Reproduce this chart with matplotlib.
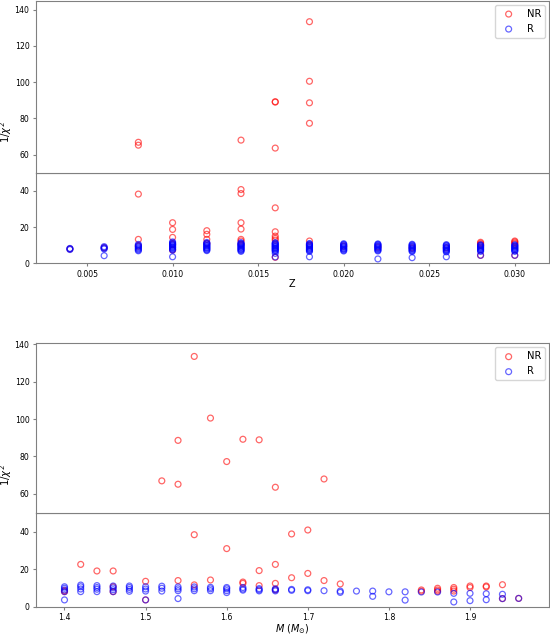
import numpy as np
import matplotlib
matplotlib.use("Agg")
import matplotlib.pyplot as plt

# grid of metallicities and masses
Z_GRID = [0.004, 0.006, 0.008, 0.010, 0.012, 0.014, 0.016,
          0.018, 0.020, 0.022, 0.024, 0.026, 0.028, 0.030]
M_GRID = [1.40, 1.42, 1.44, 1.46, 1.48, 1.50, 1.52, 1.54, 1.56, 1.58,
          1.60, 1.62, 1.64, 1.66, 1.68, 1.70, 1.72, 1.74, 1.76, 1.78,
          1.80, 1.82, 1.84, 1.86, 1.88, 1.90, 1.92, 1.94, 1.96]

# 1/chi^2 values read per Z (non-rotating / rotating)
NR_BY_Z = [
    [7.9],
    [8.6],
    [65.2, 66.8, 38.2, 13.2, 9.5],
    [22.4, 18.7, 14.3, 10.5, 7.3],
    [18.0, 16.0, 13.2, 11.0],
    [68.0, 40.7, 38.5, 22.4, 18.9, 13.2, 12.3, 10.5],
    [89.0, 89.2, 63.6, 30.6, 17.4, 15.0, 13.8, 12.8, 3.3],
    [133.4, 100.5, 88.6, 77.3, 12.3, 10.0],
    [9.5],
    [9.0],
    [8.5],
    [8.5],
    [11.6, 11.0, 10.4, 9.8, 4.4],
    [12.3, 11.8, 11.2, 10.6, 4.4],
]
R_BY_Z = [
    [7.6, 8.0, 8.2],
    [4.2, 7.9, 8.3, 8.7, 9.2],
    [6.9, 7.4, 7.9, 8.4, 8.9, 9.4, 9.9, 10.4],
    [3.6, 7.3, 7.7, 8.1, 8.6, 8.9, 9.3, 9.8, 10.1, 10.5, 10.9, 11.3, 11.8],
    [7.0, 7.4, 7.8, 8.3, 8.6, 9.0, 9.5, 9.8, 10.2, 10.7, 11.0, 11.5],
    [6.6, 7.0, 7.5, 7.8, 8.2, 8.7, 9.0, 9.4, 9.9, 10.2, 10.6, 11.0, 11.4],
    [3.5, 5.5, 6.6, 7.0, 7.4, 7.9, 8.2, 8.6, 9.1, 9.4, 9.8, 10.3, 10.6, 11.0, 11.4],
    [3.6, 6.6, 7.0, 7.5, 7.8, 8.2, 8.7, 9.0, 9.4, 9.9, 10.2, 10.6, 10.9],
    [6.8, 7.2, 7.7, 8.0, 8.4, 8.9, 9.2, 9.6, 10.1, 10.4, 10.8],
    [2.4, 6.8, 7.2, 7.6, 8.1, 8.4, 8.8, 9.3, 9.6, 10.0, 10.4, 10.7],
    [3.1, 6.5, 6.9, 7.3, 7.8, 8.1, 8.5, 9.0, 9.3, 9.7, 10.1, 10.5],
    [3.6, 6.3, 6.7, 7.2, 7.5, 7.9, 8.4, 8.7, 9.1, 9.6, 9.9, 10.3],
    [4.4, 6.6, 7.0, 7.5, 7.8, 8.2, 8.7, 9.0, 9.4, 9.9, 10.2],
    [4.4, 6.6, 7.0, 7.4, 7.9, 8.2, 8.6, 9.1, 9.4, 9.8, 10.2],
]

# 1/chi^2 values read per mass
NR_BY_M = [
    [8.0, 8.6], [22.5], [19.0], [19.0, 10.6, 8.0], [],
    [13.5, 3.6], [67.0], [88.6, 65.2, 13.9], [133.4, 38.3, 11.6], [100.5, 14.2],
    [77.3, 30.9], [89.2, 13.1, 12.4], [88.9, 19.2, 11.2], [63.6, 22.5, 12.4, 9.0], [38.7, 15.4],
    [40.8, 17.7], [68.0, 13.9], [12.1], [], [],
    [], [], [8.9, 8.2], [9.8, 8.9, 8.2], [10.2, 9.3, 8.3],
    [11.0, 10.2], [11.0, 10.5], [11.7, 4.3], [4.4],
]
R_BY_M = [
    [3.6, 8.0, 8.9, 9.8, 10.6], [8.0, 9.4, 10.6, 11.5], [8.0, 9.3, 10.2, 11.2],
    [8.0, 9.0, 10.0, 11.0], [8.2, 9.2, 10.2, 11.0], [3.6, 8.3, 9.4, 10.6],
    [8.3, 9.8, 10.9], [4.3, 8.5, 9.5, 10.5], [8.5, 9.5, 10.5], [8.5, 9.5, 10.3],
    [7.5, 8.5, 9.5, 10.2], [8.8, 9.4, 10.2], [8.4, 9.0, 9.6], [8.4, 9.0, 9.5],
    [8.7, 9.2], [8.5, 9.0], [8.5], [7.6, 8.3], [8.3], [5.5, 8.3], [7.9],
    [3.5, 7.9], [7.8], [7.8], [2.5, 7.1], [3.2, 7.1], [3.7, 6.9], [4.3, 6.6], [4.4],
]

NR_COLOR = "red"
R_COLOR = "blue"
SPINE = "0.5"


def flatten(grid, groups):
    xs, ys = [], []
    for x, vals in zip(grid, groups):
        xs.extend([x] * len(vals))
        ys.extend(vals)
    return np.array(xs), np.array(ys)


def style_ax(ax):
    for sp in ax.spines.values():
        sp.set_color(SPINE)
    ax.tick_params(colors=SPINE, labelcolor="black", labelsize=5.6,
                   length=2.5, width=0.8, pad=2)


def broken_panel(fig, bottom, h_low, h_high, xlim, ylim_top, xs_nr, ys_nr, xs_r, ys_r, xlabel):
    left, width = 0.0649, 0.9333
    ax_lo = fig.add_axes([left, bottom, width, h_low])
    ax_hi = fig.add_axes([left, bottom + h_low, width, h_high], sharex=ax_lo)
    for ax in (ax_hi, ax_lo):
        ax.scatter(xs_nr, ys_nr, s=18, facecolors="none", edgecolors=NR_COLOR,
                   alpha=0.6, linewidths=0.9, label="NR")
        ax.scatter(xs_r, ys_r, s=18, facecolors="none", edgecolors=R_COLOR,
                   alpha=0.6, linewidths=0.9, label="R")
        style_ax(ax)
    ax_lo.set_xlim(*xlim)
    ax_lo.set_ylim(0, 50)
    ax_lo.set_yticks([0, 20, 40])
    ax_hi.set_ylim(50, ylim_top)
    ax_hi.set_yticks([60, 80, 100, 120, 140])
    ax_hi.tick_params(axis="x", bottom=False, labelbottom=False)
    ax_lo.set_xlabel(xlabel, fontsize=7, labelpad=0)
    ax_hi.legend(loc="upper right", fontsize=7.2, borderaxespad=0.4)
    fig.text(0.012, bottom + (h_low + h_high) / 2, r"$1/\chi^2$", rotation=90,
             va="center", ha="center", fontsize=7.2)
    return ax_hi, ax_lo


fig = plt.figure(figsize=(5.5, 6.34), dpi=100)

zx_nr, zy_nr = flatten(Z_GRID, NR_BY_Z)
zx_r, zy_r = flatten(Z_GRID, R_BY_Z)
mx_nr, my_nr = flatten(M_GRID, NR_BY_M)
mx_r, my_r = flatten(M_GRID, R_BY_M)

broken_panel(fig, 0.5847, 0.1429, 0.2713, (0.002, 0.032), 145,
             zx_nr, zy_nr, zx_r, zy_r, "Z")
broken_panel(fig, 0.0431, 0.1482, 0.2672, (1.3645, 1.9974), 140.4,
             mx_nr, my_nr, mx_r, my_r, r"$M$ ($M_{\odot}$)")

fig.savefig("out.png", dpi=100)
